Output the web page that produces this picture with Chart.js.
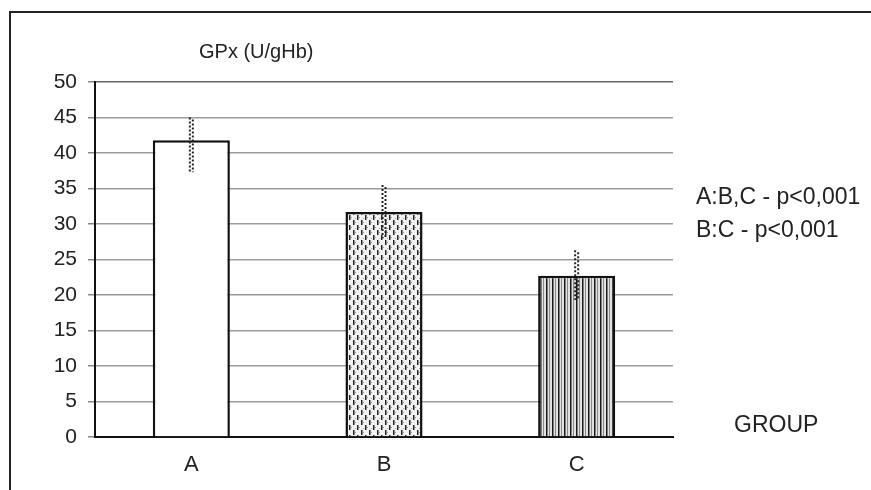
<!DOCTYPE html>
<html>
<head>
<meta charset="utf-8">
<title>GPx (U/gHb)</title>
<script src="https://cdn.jsdelivr.net/npm/chart.js@4.4.1/dist/chart.umd.min.js"></script>
<style>
    body { margin: 0; background: #fff; }
    canvas { display: block; }
</style>
</head>
<body>
<canvas id="gpxChart" width="871" height="490"></canvas>
<script>
/* ---------------------------------------------------
   Data
---------------------------------------------------*/

const categories = ["A", "B", "C"];
const gpxMeans = [41.8, 31.7, 22.7];
const errLow = [37.3, 28.0, 19.3];
const errHigh = [45.0, 35.5, 26.3];
const yTickValues = [0, 5, 10, 15, 20, 25, 30, 35, 40, 45, 50];

const chartTitle = "GPx (U/gHb)";
const notes = ["A:B,C - p<0,001", "B:C - p<0,001"];
const xTitle = "GROUP";

const FONT = "'Liberation Sans', Arial, sans-serif";

/* ---------------------------------------------------
   Fill patterns for the bars
---------------------------------------------------*/

function makePattern(w, h, paint) {
    const c = document.createElement("canvas");
    c.width = w;
    c.height = h;
    const g = c.getContext("2d");
    paint(g);
    return g.createPattern(c, "repeat");
}

const dashPattern = makePattern(8, 10, g => {
    g.fillStyle = "#f2f2f2";
    g.fillRect(0, 0, 8, 10);
    g.fillStyle = "#222";
    g.fillRect(1, 0, 1.5, 5);
    g.fillRect(5, 5, 1.5, 5);
    g.fillStyle = "#999";
    g.fillRect(3, 2, 1, 1);
    g.fillRect(7, 7, 1, 1);
    g.fillRect(3, 8, 1, 1);
});

const stripePattern = makePattern(6, 4, g => {
    g.fillStyle = "#e2e2e2";
    g.fillRect(0, 0, 6, 4);
    g.fillStyle = "#1a1a1a";
    g.fillRect(0, 0, 1.5, 4);
    g.fillStyle = "#8a8a8a";
    g.fillRect(3, 0, 1, 4);
});

/* ---------------------------------------------------
   Plugins: frame, texts, error bars
---------------------------------------------------*/

const framePlugin = {
    id: "frame",
    beforeDraw(chart) {
        const ctx = chart.ctx;
        ctx.save();
        ctx.fillStyle = "#fff";
        ctx.fillRect(0, 0, chart.width, chart.height);
        ctx.strokeStyle = "#222";
        ctx.lineWidth = 2;
        ctx.beginPath();
        ctx.moveTo(10, chart.height);
        ctx.lineTo(10, 12);
        ctx.lineTo(chart.width, 12);
        ctx.stroke();
        ctx.restore();
    },
    afterDraw(chart) {
        const ctx = chart.ctx;
        ctx.save();
        ctx.fillStyle = "#222";
        ctx.textBaseline = "alphabetic";
        ctx.font = "20px " + FONT;
        ctx.fillText(chartTitle, 199, 58);
        ctx.font = "23px " + FONT;
        ctx.fillText(notes[0], 696, 204);
        ctx.fillText(notes[1], 696, 237);
        ctx.fillText(xTitle, 734, 432);
        ctx.restore();
    }
};

const errorBarPlugin = {
    id: "errorBars",
    afterDatasetsDraw(chart) {
        const ctx = chart.ctx;
        const yScale = chart.scales.y;
        const meta = chart.getDatasetMeta(0);
        ctx.save();
        ctx.strokeStyle = "#222";
        ctx.lineWidth = 2;
        ctx.setLineDash([2, 2]);
        meta.data.forEach((bar, i) => {
            const top = yScale.getPixelForValue(errHigh[i]);
            const bottom = yScale.getPixelForValue(errLow[i]);
            [-1.5, 1.5].forEach((dx, k) => {
                ctx.lineDashOffset = k * 2;
                ctx.beginPath();
                ctx.moveTo(bar.x + dx, top);
                ctx.lineTo(bar.x + dx, bottom);
                ctx.stroke();
            });
        });
        ctx.restore();
    }
};

/* ---------------------------------------------------
   Chart
---------------------------------------------------*/

new Chart(document.getElementById("gpxChart"), {
    type: "bar",
    data: {
        labels: categories,
        datasets: [{
            data: gpxMeans,
            backgroundColor: ["#ffffff", dashPattern, stripePattern],
            borderColor: "#111",
            borderWidth: 2.5,
            borderSkipped: "bottom",
            categoryPercentage: 1,
            barPercentage: 0.4
        }]
    },
    options: {
        responsive: false,
        devicePixelRatio: 1,
        animation: false,
        layout: {
            padding: { left: 10, top: 82, right: 198, bottom: 0 }
        },
        plugins: {
            legend: { display: false },
            tooltip: { enabled: false }
        },
        scales: {
            x: {
                grid: { display: false, drawTicks: false },
                border: { color: "#111", width: 2 },
                ticks: {
                    color: "#222",
                    font: { family: FONT, size: 22 },
                    padding: 15
                },
                afterFit(scale) {
                    scale.height = 53;
                }
            },
            y: {
                min: 0,
                max: 50,
                afterBuildTicks(scale) {
                    scale.ticks = yTickValues.map(v => ({ value: v }));
                },
                grid: {
                    color: ctx => ctx.tick && ctx.tick.value === 50 ? "#666" : "#9c9c9c",
                    lineWidth: 1.5,
                    tickLength: 7,
                    tickColor: "#888"
                },
                border: { color: "#111", width: 2 },
                ticks: {
                    color: "#222",
                    font: { family: FONT, size: 21 },
                    padding: 11
                },
                afterFit(scale) {
                    scale.width = 85;
                }
            }
        }
    },
    plugins: [framePlugin, errorBarPlugin]
});
</script>
</body>
</html>
